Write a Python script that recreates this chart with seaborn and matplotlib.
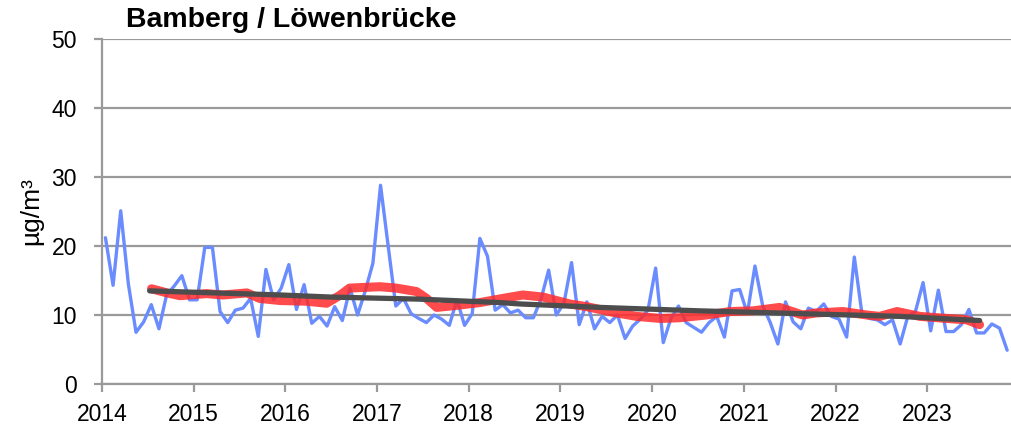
import numpy as np
import pandas as pd
import matplotlib.pyplot as plt
import seaborn as sns

# monthly means Jan 2014 .. Nov 2023 (µg/m³)
monthly = [21.2, 14.3, 25.1, 14.5, 7.5, 9.0, 11.5, 8.0, 12.9, 14.2, 15.7, 12.2,
           12.2, 19.8, 19.8, 10.5, 8.9, 10.7, 11.0, 12.4, 6.9, 16.6, 12.2, 13.9,
           17.3, 10.8, 14.4, 8.8, 9.8, 8.4, 11.2, 9.2, 13.9, 10.0, 13.5, 17.5,
           28.8, 20.0, 11.3, 12.4, 10.2, 9.5, 8.9, 10.0, 9.4, 8.5, 12.2, 8.5,
           10.2, 21.1, 18.5, 10.7, 11.5, 10.3, 10.7, 9.6, 9.6, 12.3, 16.5, 10.0,
           11.7, 17.6, 8.6, 11.9, 8.0, 9.8, 8.9, 10.0, 6.6, 8.4, 9.4, 10.7,
           16.8, 6.0, 9.5, 11.3, 8.9, 8.2, 7.5, 8.9, 9.8, 6.8, 13.5, 13.7,
           10.2, 17.1, 11.4, 8.9, 5.8, 11.9, 9.0, 8.0, 11.0, 10.5, 11.6, 9.8,
           9.4, 6.8, 18.4, 10.2, 9.5, 9.3, 8.6, 9.3, 5.8, 9.8, 10.5, 14.7,
           7.7, 13.6, 7.6, 7.6, 8.6, 10.8, 7.4, 7.4, 8.7, 8.1, 4.9]

# running mean
rm_year = [2014.54, 2014.71, 2014.85, 2015.14, 2015.32, 2015.58, 2015.72, 2015.94,
           2016.23, 2016.45, 2016.60, 2016.70, 2017.03, 2017.21, 2017.43, 2017.54,
           2017.65, 2017.87, 2018.12, 2018.37, 2018.59, 2018.81, 2019.10, 2019.29,
           2019.57, 2019.83, 2020.09, 2020.30, 2020.59, 2020.85, 2021.10, 2021.39,
           2021.64, 2021.79, 2022.08, 2022.34, 2022.48, 2022.67, 2022.92, 2023.21,
           2023.43, 2023.57]
rm_val = [13.8, 13.2, 12.8, 13.1, 12.9, 13.2, 12.4, 12.1,
          12.0, 11.7, 12.9, 13.9, 14.1, 13.9, 13.4, 12.4,
          11.1, 11.4, 11.8, 12.4, 12.9, 12.6, 11.6, 11.2,
          10.4, 9.8, 9.5, 9.6, 10.0, 10.5, 10.6, 11.1,
          10.0, 10.3, 10.5, 10.0, 9.8, 10.5, 9.8, 9.5,
          9.3, 8.6]

# trend
tr_year = [2014.52, 2015.95, 2016.49, 2017.46, 2018.34, 2018.56, 2019.43, 2020.52, 2021.61, 2022.70, 2023.57]
tr_val = [13.5, 12.9, 12.6, 12.3, 11.8, 11.6, 11.1, 10.6, 10.2, 9.8, 9.2]

years = list(range(2014, 2024))
title = 'Bamberg / Löwenbrücke'

sns.set_style('white')
plt.rcParams['font.family'] = ['Liberation Sans', 'DejaVu Sans']

df = pd.DataFrame({'t': 2014 + (np.arange(len(monthly)) + 0.45) / 12, 'v': monthly})
rm = pd.DataFrame({'t': rm_year, 'v': rm_val})
tr = pd.DataFrame({'t': tr_year, 'v': tr_val})

fig = plt.figure(figsize=(10.11, 4.34), dpi=100)
ax = fig.add_axes([102 / 1011, 1 - 384 / 434, 909 / 1011, 345 / 434])

sns.lineplot(data=df, x='t', y='v', ax=ax, color='#6a8cff', lw=2.4, zorder=3)
sns.lineplot(data=rm, x='t', y='v', ax=ax, color='#ff2b2b', alpha=0.85, lw=6.5,
             zorder=4, solid_capstyle='round', solid_joinstyle='round')
sns.lineplot(data=tr, x='t', y='v', ax=ax, color='#4d4d4d', lw=3.8, zorder=5,
             solid_capstyle='round')

ax.set_xlim(2014, 2023.913)
ax.set_ylim(0, 50)
ax.set_yticks(range(0, 51, 10))
ax.set_xticks(years)
ax.set_xticklabels([str(y) for y in years])
ax.yaxis.grid(True, color='#9a9a9a', lw=1.6)
ax.set_axisbelow(True)
for s in ['top', 'right']:
    ax.spines[s].set_visible(False)
for s in ['left', 'bottom']:
    ax.spines[s].set_color('#9a9a9a')
    ax.spines[s].set_linewidth(1.6)
ax.tick_params(axis='both', which='major', labelsize=16.5, color='#9a9a9a',
               labelcolor='black', width=1.6, length=6, direction='out',
               left=True, bottom=True)
ax.tick_params(axis='y', pad=12)
ax.tick_params(axis='x', pad=8)
ax.set_xlabel('')
ax.set_ylabel('µg/m³', fontsize=19, labelpad=6, color='black')

fig.text(126 / 1011, 1 - 20 / 434, title, fontsize=20.5, fontweight='bold',
         va='center', ha='left', color='black')

fig.savefig('out.png', dpi=100)
